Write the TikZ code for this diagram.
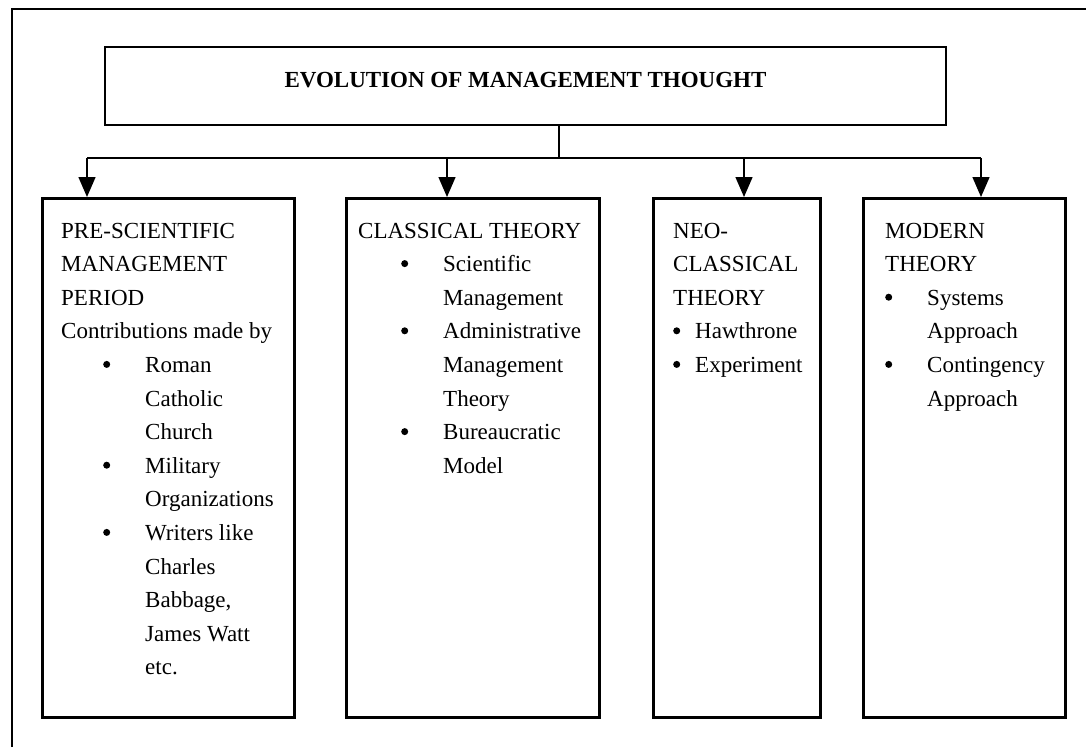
\documentclass[tikz,border=0pt]{standalone}
\usepackage{fontspec}
\setmainfont{Liberation Serif}
\usetikzlibrary{arrows.meta}
\newcommand\mydot{\tikz[baseline=0pt]\fill (3.8pt,8pt) circle (3.5pt);}
\newcommand\myline[1]{\hbox{#1}}
\newcommand\mybul[3]{\hbox{\kern#1pt\rlap{\mydot}\kern\dimexpr#2pt-#1pt\relax #3}}
\newcommand\mycont[2]{\hbox{\kern#1pt #2}}
\newcommand\mystack[1]{\vtop{\baselineskip=33.6pt\lineskiplimit=-100pt\lineskip=0pt #1}}
\tikzset{
  frame/.style={line width=2.6pt},
  titlebox/.style={draw, line width=1.8pt, inner sep=0pt},
  catbox/.style={draw, line width=2.8pt, inner sep=0pt, anchor=north west},
  boxtext/.style={anchor=base west, inner sep=0pt, font=\fontsize{23}{33.6}\selectfont},
  conn/.style={line width=1.4pt},
  arr/.style={conn, -{Triangle[length=20pt, width=17pt]}},
}
\begin{document}
\begin{tikzpicture}[x=1pt, y=-1pt]
\useasboundingbox (0,0) rectangle (1086,747);
% outer frame (cut at right and bottom)
\draw[frame] (12,747) -- (12,9) -- (1086,9);
% title
\node[titlebox, minimum width=841pt, minimum height=78pt] (title) at (525.5,86) {};
\node[anchor=base, inner sep=0pt, font=\fontsize{23}{28}\selectfont\bfseries] (titletext) at (525.5,87) {EVOLUTION OF MANAGEMENT THOUGHT};
% category boxes
\node[catbox, minimum width=252pt, minimum height=519pt] (b1) at (41,197) {};
\node[catbox, minimum width=253pt, minimum height=519pt] (b2) at (345,197) {};
\node[catbox, minimum width=167pt, minimum height=519pt] (b3) at (652,197) {};
\node[catbox, minimum width=202pt, minimum height=519pt] (b4) at (862,197) {};
% connectors
\coordinate (j) at (559,158);
\coordinate (a1) at (87,158);
\coordinate (a2) at (447,158);
\coordinate (a3) at (744,158);
\coordinate (a4) at (981,158);
\draw[conn] (title.south -| j) -- (j);
\draw[conn] (a1) -- (a4);
\draw[arr] (a1) -- (a1 |- b1.north);
\draw[arr] (a2) -- (a2 |- b2.north);
\draw[arr] (a3) -- (a3 |- b3.north);
\draw[arr] (a4) -- (a4 |- b4.north);
% texts
\node[boxtext] (t1) at (61,238) {\mystack{%
  \myline{PRE-SCIENTIFIC}
  \myline{MANAGEMENT}
  \myline{PERIOD}
  \myline{Contributions made by}
  \mybul{42}{84}{Roman}
  \mycont{84}{Catholic}
  \mycont{84}{Church}
  \mybul{42}{84}{Military}
  \mycont{84}{Organizations}
  \mybul{42}{84}{Writers like}
  \mycont{84}{Charles}
  \mycont{84}{Babbage,}
  \mycont{84}{James Watt}
  \mycont{84}{etc.}}};
\node[boxtext] (t2) at (358,238) {\mystack{%
  \myline{CLASSICAL THEORY}
  \mybul{43}{85}{Scientific}
  \mycont{85}{Management}
  \mybul{43}{85}{Administrative}
  \mycont{85}{Management}
  \mycont{85}{Theory}
  \mybul{43}{85}{Bureaucratic}
  \mycont{85}{Model}}};
\node[boxtext] (t3) at (673,238) {\mystack{%
  \myline{NEO-}
  \myline{CLASSICAL}
  \myline{THEORY}
  \mybul{0}{22}{Hawthrone}
  \mybul{0}{22}{Experiment}}};
\node[boxtext] (t4) at (885,238) {\mystack{%
  \myline{MODERN}
  \myline{THEORY}
  \mybul{0}{42}{Systems}
  \mycont{42}{Approach}
  \mybul{0}{42}{Contingency}
  \mycont{42}{Approach}}};
\end{tikzpicture}
\end{document}
